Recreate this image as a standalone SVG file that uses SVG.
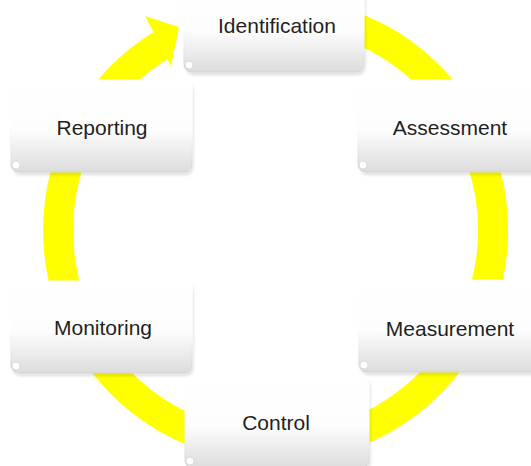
<svg xmlns="http://www.w3.org/2000/svg" width="531" height="466" viewBox="0 0 531 466">
  <style>
    .label { font-family: "Liberation Sans", Arial, sans-serif; font-size: 21px; fill: #1f1f1f; text-anchor: middle; }
    .box { fill: url(#boxFill); stroke: url(#boxEdge); stroke-width: 1; filter: url(#soft); }
    .curl { fill: #ffffff; stroke: #d6d6d6; stroke-width: 0.8; }
    .ring { fill: none; stroke: #ffff00; stroke-width: 30; }
    .head { fill: #ffff00; }
  </style>
  <defs>
    <linearGradient id="boxFill" x1="0" y1="0" x2="0" y2="1">
      <stop offset="0" stop-color="#ffffff"/>
      <stop offset="0.55" stop-color="#fdfdfd"/>
      <stop offset="1" stop-color="#dcdcdc"/>
    </linearGradient>
    <linearGradient id="boxEdge" x1="0" y1="0" x2="0" y2="1">
      <stop offset="0" stop-color="#ffffff"/>
      <stop offset="0.5" stop-color="#ffffff"/>
      <stop offset="1" stop-color="#d2d2d2"/>
    </linearGradient>
    <filter id="soft" x="-10%" y="-10%" width="120%" height="130%">
      <feDropShadow dx="1.5" dy="3" stdDeviation="1.2" flood-color="#000000" flood-opacity="0.1"/>
    </filter>
  </defs>

  <!-- cycle ring with its arrowhead -->
  <g id="connectors">
    <path class="ring" d="M 349.9 25.6 A 217.5 217.5 0 1 1 161.9 44.6"/>
    <polygon class="head" points="145,16 179,27 171,66"/>
  </g>

  <g id="identification">
    <rect class="box" x="184" y="-20" width="180" height="92" rx="8"/>
    <circle class="curl" cx="189" cy="65" r="4"/>
    <text class="label" x="277" y="33">Identification</text>
  </g>

  <g id="reporting">
    <rect class="box" x="11" y="80" width="181" height="92" rx="8"/>
    <circle class="curl" cx="16" cy="165" r="4"/>
    <text class="label" x="102" y="135">Reporting</text>
  </g>

  <g id="assessment">
    <rect class="box" x="358" y="80" width="180" height="92" rx="8"/>
    <circle class="curl" cx="363" cy="165" r="4"/>
    <text class="label" x="450" y="135">Assessment</text>
  </g>

  <g id="monitoring">
    <rect class="box" x="11" y="281" width="181" height="92" rx="8"/>
    <circle class="curl" cx="16" cy="366" r="4"/>
    <text class="label" x="103" y="335">Monitoring</text>
  </g>

  <g id="measurement">
    <rect class="box" x="359" y="280" width="180" height="92" rx="8"/>
    <circle class="curl" cx="364" cy="365" r="4"/>
    <text class="label" x="450" y="336">Measurement</text>
  </g>

  <g id="control">
    <rect class="box" x="185" y="376" width="184" height="92" rx="8"/>
    <circle class="curl" cx="190" cy="461" r="4"/>
    <text class="label" x="276" y="430">Control</text>
  </g>
</svg>
